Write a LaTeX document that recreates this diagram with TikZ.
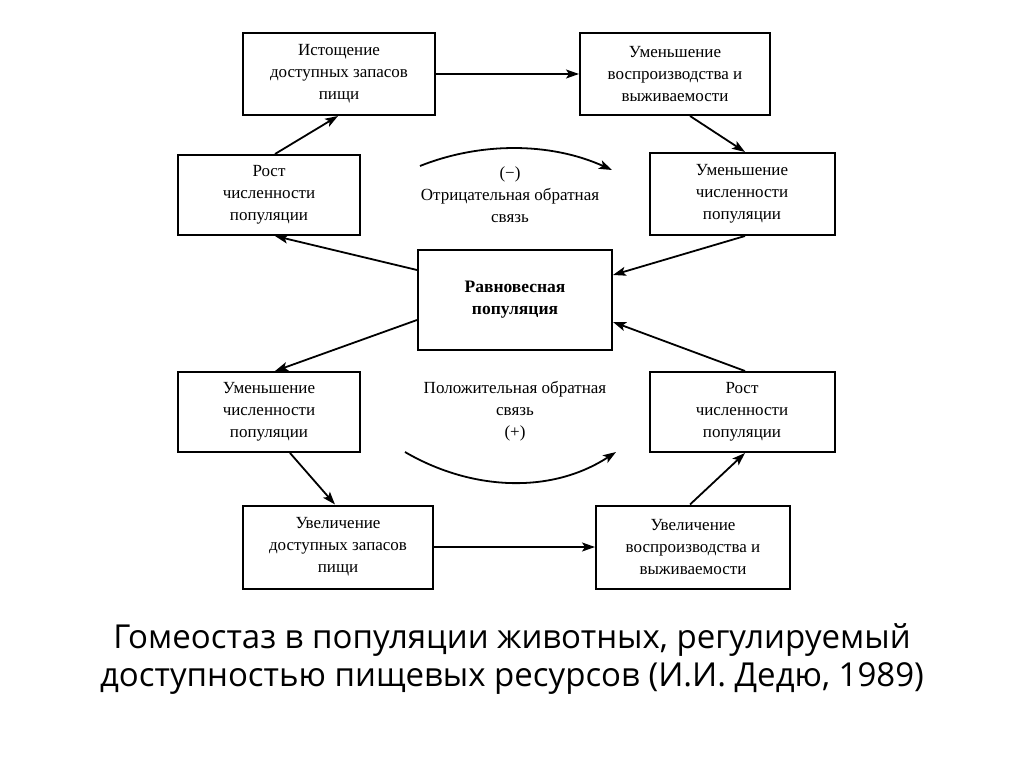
\documentclass[tikz,border=0pt]{standalone}
\usepackage{fontspec}
\setmainfont{Liberation Serif}
\newfontfamily\capfont{Open Sans}
\usetikzlibrary{arrows.meta}
\begin{document}
\begin{tikzpicture}[x=1pt,y=-1pt,
  box/.style={draw,line width=2pt,align=center,inner sep=0pt,font=\fontsize{17}{22}\selectfont},
  arr/.style={line width=1.8pt,-{Stealth[length=13pt,width=9pt,inset=3pt]}},
  lbl/.style={align=center,font=\fontsize{17}{22}\selectfont}]
\useasboundingbox (0,0) rectangle (1024,767);
\fill[white] (0,0) rectangle (1024,767);
\node[box,minimum width=192pt,minimum height=82pt] (A) at (339,74) {Истощение\\доступных запасов\\пищи};
\node[box,minimum width=190pt,minimum height=82pt] (B) at (675,74) {Уменьшение\\воспроизводства и\\выживаемости};
\node[box,minimum width=182pt,minimum height=80pt] (C) at (269,195) {Рост\\численности\\популяции};
\node[box,minimum width=185pt,minimum height=82pt] (D) at (742,194) {Уменьшение\\численности\\популяции};
\node[box,minimum width=194pt,minimum height=100pt,font=\fontsize{17.5}{22}\selectfont\bfseries] (E) at (515,300) {Равновесная\\популяция};
\node[box,minimum width=182pt,minimum height=80pt] (F) at (269,412) {Уменьшение\\численности\\популяции};
\node[box,minimum width=185pt,minimum height=80pt] (G) at (742,412) {Рост\\численности\\популяции};
\node[box,minimum width=190pt,minimum height=83pt] (H) at (338,547) {Увеличение\\доступных запасов\\пищи};
\node[box,minimum width=194pt,minimum height=83pt] (I) at (693,547) {Увеличение\\воспроизводства и\\выживаемости};
% arrows
\draw[arr] (A.east) -- (B.west);
\draw[arr] (H.east) -- (I.west);
\draw[arr] ([xshift=6pt]C.north) -- ([xshift=-1pt]A.south);
\draw[arr] ([xshift=15pt]B.south) -- ([xshift=3pt]D.north);
\draw[arr] ([yshift=30pt]E.west) -- ([xshift=6pt]C.south);
\draw[arr] ([yshift=-20pt]E.west) -- ([xshift=6pt]F.north);
\draw[arr] ([xshift=3pt]D.south) -- ([yshift=25pt]E.east);
\draw[arr] ([xshift=3pt]G.north) -- ([yshift=-22pt]E.east);
\draw[arr] ([xshift=21pt]F.south) -- ([xshift=-3pt]H.north);
\draw[arr] ([xshift=-3pt]I.north) -- ([xshift=3pt]G.south);
% feedback curves
\coordinate (t1) at (420,166);
\coordinate (t2) at (612,170);
\draw[arr] (t1) .. controls (480,142) and (550,142) .. (t2);
\coordinate (b1) at (405,452);
\coordinate (b2) at (616,452);
\draw[arr] (b1) .. controls (470,490) and (550,495) .. (b2);
\node[lbl] (neg) at (510,195) {(−)\\Отрицательная обратная\\связь};
\node[lbl] (pos) at (515,411) {Положительная обратная\\связь\\(+)};
\node[align=center,font=\capfont\fontsize{33}{38}\selectfont] (cap) at (512,659) {Гомеостаз в популяции животных, регулируемый\\доступностью пищевых ресурсов (И.И. Дедю, 1989)};
\end{tikzpicture}
\end{document}
